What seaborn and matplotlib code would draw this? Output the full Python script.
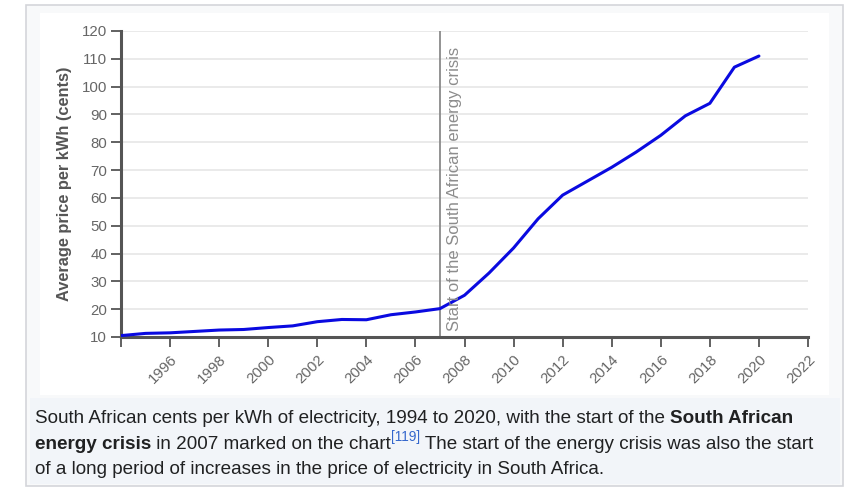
import matplotlib
matplotlib.use('Agg')
import matplotlib.pyplot as plt
import seaborn as sns
import pandas as pd
from matplotlib.patches import Rectangle

# Data
years = list(range(1994, 2021))
price_cents = [10.5, 11.3, 11.5, 12.0, 12.5, 12.7, 13.4, 14.0, 15.5, 16.3, 16.2, 18.0, 19.0, 20.2,
               25.0, 33.0, 42.0, 52.5, 61.0, 66.0, 71.0, 76.5, 82.5, 89.5, 94.0, 107.0, 111.0]
crisis_year = 2007
crisis_label = "Start of the South African energy crisis"
y_ticks = list(range(10, 130, 10))
x_ticks = list(range(1994, 2024, 2))
x_tick_labels = [''] + [str(t) for t in range(1996, 2024, 2)]

df = pd.DataFrame({'year': years, 'price': price_cents})

sns.set_style('white')
plt.rcParams['font.family'] = ['Liberation Sans', 'DejaVu Sans']

W, H = 853, 491
fig = plt.figure(figsize=(W / 100, H / 100), dpi=100)
fig.patch.set_facecolor('white')

def px_rect(x0, y0, x1, y1, **kw):
    fig.patches.append(Rectangle((x0 / W, 1 - y1 / H), (x1 - x0) / W, (y1 - y0) / H,
                                 transform=fig.transFigure, figure=fig, **kw))

# thumbnail frame, image area and caption area
px_rect(26, 5, 843, 486, facecolor='#f8f9fa', edgecolor='#d4d6da', lw=1.2, zorder=-2)
px_rect(40, 13, 829, 395, facecolor='white', edgecolor='none', zorder=-1)
px_rect(30, 398, 840, 484, facecolor='#f2f5f9', edgecolor='none', zorder=-1)

ax = fig.add_axes([121 / W, 1 - 337 / H, (808 - 121) / W, (337 - 31) / H])
ax.set_facecolor('none')
ax.set_zorder(2)

sns.lineplot(data=df, x='year', y='price', ax=ax, color='#0a0ae0', linewidth=2.2, zorder=3)

ax.set_xlim(1994, 2022)
ax.set_ylim(10, 120)
ax.set_yticks(y_ticks)
ax.set_xticks(x_ticks)
ax.set_xticklabels(x_tick_labels, rotation=45, ha='right', rotation_mode='anchor')
ax.yaxis.grid(True, color='#e6e6e6', linewidth=1.2)
ax.set_axisbelow(True)

for s in ['top', 'right']:
    ax.spines[s].set_visible(False)
for s in ['left', 'bottom']:
    ax.spines[s].set_color('#555555')
    ax.spines[s].set_linewidth(2.2)
ax.tick_params(axis='both', bottom=True, left=True, colors='#555555', labelcolor='#666666',
               labelsize=10.8, length=7, width=1.3, direction='out')
ax.tick_params(axis='x', pad=4)
ax.tick_params(axis='y', pad=3)

ax.set_xlabel('')
ax.set_ylabel('Average price per kWh (cents)', fontsize=11.8, fontweight='bold', color='#555555',
              labelpad=7)

# energy crisis marker
ax.axvline(crisis_year, color='#8a8a8a', linewidth=1.3, zorder=2)
ax.text(crisis_year + 0.3, 12, crisis_label, rotation=90, ha='left', va='bottom',
        fontsize=12, color='#8c8c8c')

# caption with mixed styles
renderer = fig.canvas.get_renderer()
cap_size = 13.6
lines = [
    (423, [("South African cents per kWh of electricity, 1994 to 2020, with the start of the ", 'normal', '#202122', 0),
           ("South African", 'bold', '#202122', 0)]),
    (449, [("energy crisis", 'bold', '#202122', 0),
           (" in 2007 marked on the chart", 'normal', '#202122', 0),
           ("[119]", 'normal', '#3366cc', 1),
           (" The start of the energy crisis was also the start", 'normal', '#202122', 0)]),
    (474, [("of a long period of increases in the price of electricity in South Africa.", 'normal', '#202122', 0)]),
]
for base_y, parts in lines:
    x = 35
    for text, weight, col, sup in parts:
        size = cap_size * 0.72 if sup else cap_size
        yy = base_y - 8 if sup else base_y
        t = fig.text(x / W, 1 - yy / H, text, fontsize=size, fontweight=weight, color=col,
                     ha='left', va='baseline')
        bb = t.get_window_extent(renderer=renderer)
        x += bb.width

fig.savefig('out.png', dpi=100, facecolor=fig.get_facecolor())
